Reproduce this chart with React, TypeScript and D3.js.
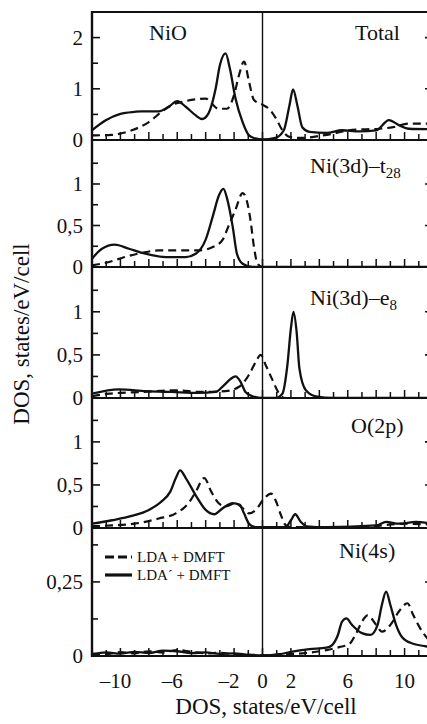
import React from "react";
import * as d3 from "d3";

// Energies (eV) and DOS values (states/eV/cell); solid = LDA′ + DMFT, dashed = LDA + DMFT
const totalLdaPrime: [number, number][] = [
  [-12, 0.19], [-11, 0.39], [-10, 0.51], [-9, 0.55], [-8.5, 0.56], [-7.3, 0.56], [-6.6, 0.65], [-6.0, 0.76],
  [-5.4, 0.65], [-4.7, 0.48], [-4.25, 0.41], [-3.8, 0.52], [-3.3, 1.0], [-3.0, 1.46], [-2.6, 1.69], [-2.3, 1.4],
  [-1.9, 0.81], [-1.4, 0.35], [-0.95, 0.09], [-0.5, 0.03], [0, 0.01], [0.9, 0.04], [1.5, 0.19], [1.9, 0.68],
  [2.15, 0.99], [2.45, 0.68], [2.8, 0.25], [3.3, 0.16], [4.5, 0.14], [5.6, 0.19], [6.8, 0.17], [8.0, 0.19],
  [8.9, 0.39], [9.6, 0.29], [10.3, 0.22], [12, 0.21],
];
const totalLda: [number, number][] = [
  [-12, 0.09], [-10.6, 0.1], [-9.2, 0.19], [-8, 0.35], [-7.1, 0.55], [-6.4, 0.68], [-5.4, 0.76], [-4.5, 0.8],
  [-4.0, 0.81], [-3.1, 0.61], [-2.5, 0.61], [-2.0, 0.88], [-1.65, 1.27], [-1.3, 1.53], [-0.95, 1.14],
  [-0.6, 0.78], [0, 0.69], [0.45, 0.61], [0.95, 0.42], [1.4, 0.19], [1.9, 0.06], [2.8, 0.04], [4.0, 0.08],
  [4.9, 0.12], [6.1, 0.19], [7.3, 0.21], [8.2, 0.22], [9.2, 0.25], [10.3, 0.32], [12, 0.32],
];
const t2gLdaPrime: [number, number][] = [
  [-12, 0.1], [-11.3, 0.22], [-10.4, 0.27], [-9.4, 0.22], [-8.25, 0.16], [-6.8, 0.12], [-5.4, 0.12],
  [-4.7, 0.16], [-4.0, 0.33], [-3.5, 0.61], [-3.05, 0.87], [-2.75, 0.94], [-2.5, 0.83], [-2.1, 0.49],
  [-1.8, 0.16], [-1.4, 0.04], [-0.7, 0], [12, 0],
];
const t2gLda: [number, number][] = [
  [-12, 0.02], [-10.8, 0.06], [-9.7, 0.12], [-8.5, 0.17], [-7.3, 0.2], [-5.9, 0.2], [-4.5, 0.2], [-3.5, 0.24],
  [-2.8, 0.33], [-2.4, 0.49], [-1.9, 0.69], [-1.4, 0.89], [-1.2, 0.85], [-0.85, 0.57], [-0.6, 0.24],
  [-0.35, 0.04], [0, 0], [12, 0],
];
const egLdaPrime: [number, number][] = [
  [-12, 0.05], [-10.1, 0.1], [-8.2, 0.08], [-6.4, 0.07], [-4.5, 0.06], [-3.3, 0.07], [-2.7, 0.15],
  [-2.25, 0.22], [-1.9, 0.25], [-1.55, 0.19], [-1.2, 0.07], [-0.7, 0.02], [0, 0], [0.9, 0], [1.4, 0.05],
  [1.75, 0.38], [2.0, 0.81], [2.18, 1.0], [2.4, 0.77], [2.6, 0.34], [3.05, 0.09], [3.75, 0.02], [5, 0], [12, 0],
];
const egLda: [number, number][] = [
  [-12, 0.02], [-10.8, 0.05], [-8.5, 0.07], [-6.1, 0.09], [-4.3, 0.07], [-2.6, 0.08], [-1.65, 0.13],
  [-0.95, 0.27], [-0.47, 0.42], [-0.12, 0.5], [0.23, 0.38], [0.7, 0.21], [1.17, 0.05], [1.6, 0], [12, 0],
];
const o2pLdaPrime: [number, number][] = [
  [-12, 0.05], [-10.6, 0.09], [-9.2, 0.14], [-8, 0.21], [-7.1, 0.31], [-6.5, 0.42], [-6.1, 0.58], [-5.8, 0.67],
  [-5.4, 0.58], [-4.7, 0.38], [-4.0, 0.21], [-3.4, 0.16], [-2.8, 0.23], [-2.1, 0.29], [-1.6, 0.27],
  [-1.3, 0.17], [-0.95, 0.05], [-0.5, 0.01], [1.6, 0.01], [2.0, 0.09], [2.3, 0.16], [2.7, 0.07], [3.1, 0.02],
  [4.5, 0.01], [8.0, 0.03], [8.7, 0.07], [9.6, 0.05], [10.8, 0.07], [12, 0.05],
];
const o2pLda: [number, number][] = [
  [-12, 0.02], [-10.6, 0.03], [-9, 0.05], [-7.3, 0.11], [-6.1, 0.17], [-5.2, 0.29], [-4.7, 0.42], [-4.1, 0.58],
  [-3.6, 0.42], [-3.1, 0.29], [-2.6, 0.25], [-1.9, 0.29], [-1.4, 0.23], [-0.95, 0.17], [-0.47, 0.21],
  [0.1, 0.34], [0.6, 0.4], [0.95, 0.31], [1.3, 0.15], [1.65, 0.03], [2.1, 0.01], [7.5, 0.01], [8.45, 0.03],
  [10, 0.05], [12, 0.04],
];
const ni4sLdaPrime: [number, number][] = [
  [-12, 0.005], [-11, 0.012], [-10, 0.008], [-9, 0.014], [-8, 0.01], [-7, 0.018], [-6, 0.016], [-5, 0.01],
  [-4, 0.012], [-3, 0.007], [-2, 0.009], [-1, 0.004], [0, 0.002], [1.2, 0.006], [2.1, 0.015], [3.3, 0.023],
  [4.5, 0.028], [4.9, 0.037], [5.3, 0.07], [5.6, 0.116], [5.9, 0.127], [6.3, 0.105], [7.0, 0.077],
  [7.6, 0.071], [8.1, 0.105], [8.4, 0.172], [8.7, 0.217], [9.0, 0.172], [9.4, 0.105], [9.8, 0.065],
  [10.5, 0.043], [12, 0.03],
];
const ni4sLda: [number, number][] = [
  [-12, 0.008], [-11, 0.006], [-10, 0.013], [-9, 0.009], [-8, 0.016], [-7, 0.012], [-6, 0.02], [-5, 0.014],
  [-4, 0.009], [-3, 0.011], [-2, 0.006], [-1, 0.005], [0, 0.002], [1.5, 0.005], [3, 0.01], [4.5, 0.02],
  [5.4, 0.03], [6.1, 0.04], [6.6, 0.077], [7.0, 0.116], [7.4, 0.137], [8.0, 0.105], [8.4, 0.082],
  [9.0, 0.105], [9.6, 0.15], [10.2, 0.178], [10.6, 0.139], [11.1, 0.093], [11.6, 0.06], [12, 0.045],
];

const panelNames = ["Total", "Ni(3d)–t", "Ni(3d)–e", "O(2p)", "Ni(4s)"];
const panelSubscripts = ["", "28", "8", "", ""];
const panelMax = [2.5, 1.53, 1.52, 1.51, 0.432];
const panelTicks = [
  [0, 0.5, 1, 1.5, 2],
  [0, 0.25, 0.5, 0.75, 1, 1.25],
  [0, 0.25, 0.5, 0.75, 1, 1.25],
  [0, 0.25, 0.5, 0.75, 1, 1.25],
  [0, 0.125, 0.25, 0.375],
];
const panelTickLabels: Record<number, string>[] = [
  { 0: "0", 1: "1", 2: "2" },
  { 0: "0", 0.5: "0,5", 1: "1" },
  { 0: "0", 0.5: "0,5", 1: "1" },
  { 0: "0", 0.5: "0,5", 1: "1" },
  { 0: "0", 0.25: "0,25" },
];
const solidSeries = [totalLdaPrime, t2gLdaPrime, egLdaPrime, o2pLdaPrime, ni4sLdaPrime];
const dashedSeries = [totalLda, t2gLda, egLda, o2pLda, ni4sLda];
const energyTicks = d3.range(-12, 13, 1);
const energyLabels = [-10, -6, -2, 0, 2, 6, 10];
const legendLabels = ["LDA + DMFT", "LDA´ + DMFT"];

// layout
const W = 427;
const H = 724;
const LEFT = 92;
const RIGHT = 433;
const TOP = 12;
const baselines = [140, 267, 398, 528, 656];
const labelPos = [
  { x: 355, y: 40 },
  { x: 310, y: 173 },
  { x: 310, y: 305 },
  { x: 351, y: 433 },
  { x: 339, y: 558 },
];
const FONT = "'Liberation Serif', 'Times New Roman', serif";

const fmt = (v: number) => (v < 0 ? "–" + Math.abs(v) : String(v));

export default function App() {
  const x = d3.scaleLinear().domain([-12, 12]).range([LEFT, RIGHT]);
  const tops = [TOP, ...baselines.slice(0, 4)];

  return (
    <svg
      width={W}
      height={H}
      style={{ position: "absolute", left: 0, top: 0, background: "#fff" }}
      fontFamily={FONT}
    >
      <defs>
        {baselines.map((b, i) => (
          <clipPath id={`clip${i}`} key={i}>
            <rect x={LEFT} y={tops[i]} width={RIGHT - LEFT} height={b - tops[i] + 1} />
          </clipPath>
        ))}
      </defs>
      <rect x={0} y={0} width={W} height={H} fill="#fff" />

      {baselines.map((base, i) => {
        const y = d3.scaleLinear().domain([0, panelMax[i]]).range([base, tops[i]]);
        const line = d3
          .line<[number, number]>()
          .x((d) => x(d[0]))
          .y((d) => y(d[1]))
          .curve(d3.curveMonotoneX);
        return (
          <g key={i}>
            <g clipPath={`url(#clip${i})`}>
              <path d={line(dashedSeries[i]) || ""} fill="none" stroke="#111" strokeWidth={2.2} strokeDasharray="8,5" />
              <path d={line(solidSeries[i]) || ""} fill="none" stroke="#111" strokeWidth={2.3} />
            </g>
            {/* left and right y ticks */}
            {panelTicks[i].map((t) => {
              const major = panelTickLabels[i][t] !== undefined;
              const len = major ? 8 : 6;
              return (
                <g key={t}>
                  <line x1={LEFT} x2={LEFT + len} y1={y(t)} y2={y(t)} stroke="#111" strokeWidth={1.6} />
                  <line x1={RIGHT} x2={RIGHT - len} y1={y(t)} y2={y(t)} stroke="#111" strokeWidth={1.6} />
                  {major && (
                    <text x={83} y={y(t)} dy="0.35em" textAnchor="end" fontSize={21} fill="#111">
                      {panelTickLabels[i][t]}
                    </text>
                  )}
                </g>
              );
            })}
            {/* energy ticks on each baseline */}
            {energyTicks.map((e) => (
              <line
                key={e}
                x1={x(e)}
                x2={x(e)}
                y1={base}
                y2={base - (e % 2 === 0 ? 8 : 6)}
                stroke="#111"
                strokeWidth={1.5}
              />
            ))}
            <line x1={LEFT} x2={RIGHT} y1={base} y2={base} stroke="#111" strokeWidth={2.2} />
            <text x={labelPos[i].x} y={labelPos[i].y} fontSize={22} fill="#111">
              {panelNames[i]}
              {panelSubscripts[i] && (
                <tspan fontSize={15} dy={5}>
                  {panelSubscripts[i]}
                </tspan>
              )}
            </text>
          </g>
        );
      })}

      {/* frame */}
      <line x1={LEFT} x2={RIGHT} y1={TOP} y2={TOP} stroke="#111" strokeWidth={2.2} />
      <line x1={LEFT} x2={LEFT} y1={TOP - 1} y2={baselines[4] + 1} stroke="#111" strokeWidth={2.4} />
      <line x1={x(0)} x2={x(0)} y1={TOP} y2={baselines[4]} stroke="#111" strokeWidth={1.4} />

      <text x={149} y={40} fontSize={22} fill="#111">NiO</text>

      {/* legend */}
      <line x1={105} x2={132} y1={557} y2={557} stroke="#111" strokeWidth={3} strokeDasharray="9,4" />
      <line x1={105} x2={132} y1={575} y2={575} stroke="#111" strokeWidth={3.2} />
      <text x={137} y={562} fontSize={15} fill="#111">{legendLabels[0]}</text>
      <text x={137} y={580} fontSize={15} fill="#111">{legendLabels[1]}</text>

      {/* energy labels */}
      {energyLabels.map((e) => (
        <text key={e} x={x(e)} dx={e < 0 ? -5 : 0} y={688} textAnchor="middle" fontSize={21} fill="#111">
          {fmt(e)}
        </text>
      ))}
      <text x={266} y={714} textAnchor="middle" fontSize={23} fill="#111">
        DOS, states/eV/cell
      </text>
      <text transform="translate(29,334) rotate(-90)" textAnchor="middle" fontSize={23} fill="#111">
        DOS, states/eV/cell
      </text>
    </svg>
  );
}
